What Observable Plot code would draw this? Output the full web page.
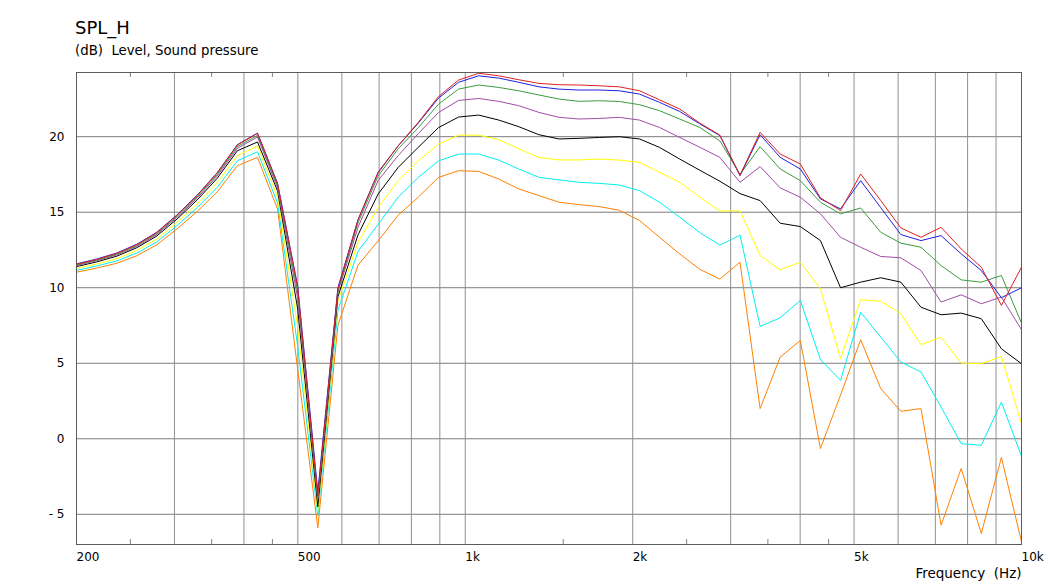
<!DOCTYPE html>
<html>
<head>
<meta charset="utf-8">
<script src="https://cdn.jsdelivr.net/npm/d3@7"></script>
<script src="https://cdn.jsdelivr.net/npm/@observablehq/plot@0.6"></script>
<style>
  html, body { margin: 0; padding: 0; background: #ffffff; }
  body { width: 1050px; height: 587px; overflow: hidden; font-family: "DejaVu Sans", sans-serif; }
  #header { position: relative; width: 1050px; height: 60px; }
  #title { position: absolute; left: 75px; top: 19px; font-size: 18px; line-height: 18px; color: #000; white-space: pre; }
  #subtitle { position: absolute; left: 75px; top: 44px; font-size: 13.3px; line-height: 13px; color: #000; white-space: pre; }
  #chart svg { display: block; }
</style>
</head>
<body>
<div id="header">
  <div id="title">SPL_H</div>
  <div id="subtitle">(dB)  Level, Sound pressure</div>
</div>
<div id="chart"></div>
<script>
// Frequencies (Hz) of the measured points
const freq = [200,217.4,236.3,256.8,279.0,303.3,329.6,358.2,389.3,423.1,459.8,499.7,543.1,590.2,641.4,697.1,757.6,823.3,894.8,972.5,1056.8,1148.6,1248.3,1356.6,1474.4,1602.3,1741.4,1892.5,2056.8,2235.3,2429.3,2640.2,2869.4,3118.4,3389.1,3683.3,4003.0,4350.5,4728.1,5138.5,5584.5,6069.2,6596.0,7168.6,7790.8,8467.0,9201.8,10000];

// Series values (dB)
const redSeries = [11.55,11.87,12.27,12.85,13.65,14.8,16.1,17.6,19.45,20.22,16.87,10.0,-3.8,9.9,14.5,17.6,19.4,20.95,22.65,23.75,24.2,24.03,23.77,23.53,23.44,23.42,23.37,23.3,23.04,22.44,21.83,20.9,20.1,17.45,20.29,18.85,18.19,15.95,15.11,17.53,15.77,13.96,13.34,14.0,12.57,11.36,8.83,11.36];
const blueSeries = [11.58,11.9,12.3,12.88,13.68,14.83,16.13,17.62,19.47,20.24,16.9,10.1,-3.5,10.0,14.5,17.65,19.4,20.9,22.55,23.6,24.03,23.88,23.6,23.3,23.15,23.09,23.09,23.04,22.82,22.27,21.67,20.85,20.07,17.42,20.13,18.63,17.86,15.88,15.22,17.09,15.3,13.52,13.12,13.45,12.24,11.14,9.34,10.0];
const greenSeries = [11.51,11.82,12.22,12.79,13.59,14.73,16.02,17.5,19.34,20.09,16.74,9.7,-3.9,9.8,14.3,17.4,19.2,20.6,22.15,23.15,23.42,23.26,23.04,22.76,22.49,22.34,22.38,22.33,22.12,21.72,21.17,20.61,19.72,17.5,19.34,17.86,17.09,15.66,14.89,15.28,13.67,12.95,12.68,11.47,10.52,10.37,10.81,7.66];
const purpleSeries = [11.47,11.78,12.17,12.73,13.52,14.66,15.93,17.4,19.23,19.98,16.6,9.3,-4.0,9.7,14.0,17.1,18.75,20.2,21.6,22.4,22.53,22.34,22.05,21.61,21.28,21.17,21.21,21.28,21.1,20.61,19.95,19.3,18.63,16.98,18.02,16.61,15.99,14.89,13.34,12.68,12.07,11.98,11.14,9.05,9.53,8.94,9.38,7.22];
const blackSeries = [11.4,11.71,12.09,12.65,13.43,14.55,15.81,17.25,19.07,19.65,16.4,8.6,-4.5,9.4,13.5,16.2,17.97,19.3,20.6,21.3,21.43,21.1,20.66,20.13,19.85,19.89,19.95,20.0,19.85,19.29,18.52,17.78,17.05,16.23,15.77,14.27,14.05,13.12,10.0,10.37,10.66,10.37,8.71,8.21,8.32,7.95,5.96,4.97];
const yellowSeries = [11.28,11.57,11.93,12.47,13.23,14.33,15.55,16.95,18.74,19.39,16.0,7.4,-4.8,9.1,13.0,15.3,17.1,18.4,19.5,20.1,20.1,19.8,19.2,18.63,18.46,18.46,18.52,18.45,18.3,17.64,16.98,16.0,15.07,15.1,12.13,11.19,11.69,9.93,5.3,9.2,9.11,8.28,6.23,6.73,5.01,4.97,5.45,1.0];
const cyanSeries = [11.15,11.44,11.78,12.3,13.04,14.12,15.3,16.65,18.41,19.0,15.6,6.1,-5.1,8.5,12.4,14.2,16.0,17.3,18.4,18.85,18.85,18.45,17.86,17.31,17.14,16.98,16.91,16.8,16.43,15.66,14.67,13.65,12.82,13.48,7.44,8.01,9.16,5.24,3.87,8.38,6.73,5.08,4.42,2.1,-0.32,-0.43,2.43,-1.16];
const orangeSeries = [11.03,11.3,11.62,12.12,12.85,13.9,15.05,16.35,18.08,18.63,15.2,4.6,-5.9,7.5,11.5,13.1,14.8,16.0,17.3,17.75,17.7,17.2,16.54,16.1,15.66,15.5,15.37,15.13,14.45,13.34,12.24,11.22,10.57,11.69,2.0,5.41,6.51,-0.65,2.9,6.56,3.32,1.82,2.0,-5.72,-1.97,-6.27,-1.24,-6.82];

// Axis ticks
const yTicks = [20, 15, 10, 5, 0, -5];
const yTickLabels = ["20", "15", "10", "5", "0", "- 5"];
const xTicks = [200, 500, 1000, 2000, 5000, 10000];
const xTickLabels = ["200", "500", "1k", "2k", "5k", "10k"];
const xGrid = [300, 400, 500, 600, 700, 800, 900, 1000, 2000, 3000, 4000, 5000, 6000, 7000, 8000, 9000];
const xMinor = [250, 350, 450, 1500, 2500, 3500, 4500];
const xLabel = "Frequency  (Hz)";

const series = [
  {values: orangeSeries, color: "#ff8000"},
  {values: cyanSeries, color: "#00f0f0"},
  {values: yellowSeries, color: "#ffff00"},
  {values: blackSeries, color: "#000000"},
  {values: purpleSeries, color: "#a04ca8"},
  {values: greenSeries, color: "#3c9c3c"},
  {values: blueSeries, color: "#2020e0"},
  {values: redSeries, color: "#e02020"}
];

const Y0 = -7, Y1 = 24.25;

const lineMarks = series.map(s =>
  Plot.line(freq.map((f, i) => ({f, v: s.values[i]})), {x: "f", y: "v", stroke: s.color, strokeWidth: 1})
);

const chart = Plot.plot({
  width: 1050,
  height: 527,
  marginLeft: 76,
  marginRight: 29,
  marginTop: 12,
  marginBottom: 43,
  x: {type: "log", domain: [200, 10000], axis: null},
  y: {domain: [Y0, Y1], axis: null},
  style: {fontFamily: "DejaVu Sans", fontSize: "12px", background: "#ffffff", color: "#000000", overflow: "visible"},
  marks: [
    Plot.ruleY(yTicks, {y: d => d, stroke: "#7c7c7c", strokeWidth: 1}),
    Plot.ruleX(xGrid, {x: d => d, stroke: "#909090", strokeWidth: 1}),
    Plot.ruleX(xMinor, {x: d => d, y1: Y1, y2: Y1 - 0.33, stroke: "#808080"}),
    Plot.ruleX(xMinor, {x: d => d, y1: Y0, y2: Y0 + 0.33, stroke: "#808080"}),
    ...lineMarks,
    Plot.frame({stroke: "#5c5c5c", strokeWidth: 1}),
    Plot.text(xTicks, {x: d => d, text: (d, i) => xTickLabels[i], frameAnchor: "bottom", lineAnchor: "top", textAnchor: "start", dy: 8, fill: "#000"}),
    Plot.text(yTicks, {y: d => d, text: (d, i) => yTickLabels[i], frameAnchor: "left", textAnchor: "end", dx: -12, fill: "#000"}),
    Plot.text([xLabel], {text: d => d, frameAnchor: "bottom-right", lineAnchor: "top", textAnchor: "end", dy: 24, fontSize: 13.5, fill: "#000"})
  ]
});
document.getElementById("chart").appendChild(chart);
</script>
</body>
</html>
